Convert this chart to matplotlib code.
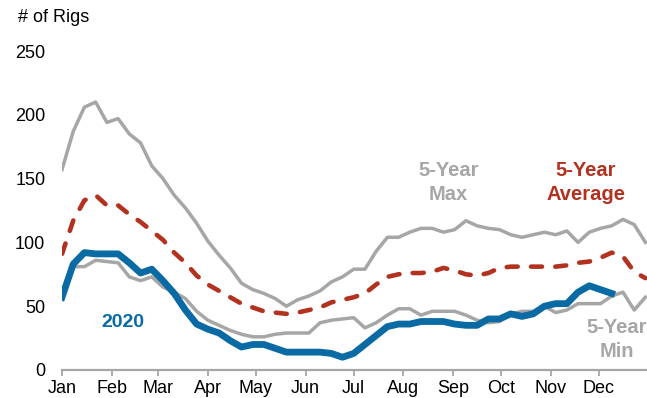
import matplotlib
matplotlib.use("Agg")
import matplotlib.pyplot as plt
import numpy as np

plt.rcParams['font.family'] = ['Liberation Sans', 'DejaVu Sans']

# weekly values, week 0 = first week of January
semanas = np.arange(53) * 7

maximo_5 = [157, 187, 206, 210, 194, 197, 185, 178, 160, 150, 137, 127, 115, 101,
            90, 80, 68, 63, 60, 56, 50, 55, 58, 62, 69, 73, 79, 79, 93, 104,
            104, 108, 111, 111, 108, 110, 117, 113, 111, 110, 106, 104, 106, 108,
            106, 109, 100, 108, 111, 113, 118, 114, 100]

promedio_5 = [91, 117, 133, 137, 129, 129, 122, 116, 109, 102, 92, 84, 74, 67,
              62, 57, 52, 49, 46, 45, 44, 45, 47, 49, 53, 55, 57, 60, 67, 73,
              75, 76, 76, 77, 80, 78, 75, 74, 76, 80, 81, 81, 81, 81,
              81, 82, 84, 85, 88, 92, 89, 77, 72]

minimo_5 = [62, 81, 81, 86, 85, 84, 73, 70, 73, 65, 61, 56, 46, 39,
            35, 31, 28, 26, 26, 28, 29, 29, 29, 37, 39, 40, 41, 33, 37, 43,
            48, 48, 43, 46, 46, 46, 43, 39, 37, 38, 44, 46, 46, 50,
            45, 47, 52, 52, 52, 58, 61, 47, 57]

rigs_2020 = [57, 83, 92, 91, 91, 91, 84, 76, 79, 70, 60, 47, 36, 32,
             29, 23, 18, 20, 20, 17, 14, 14, 14, 14, 13, 10, 13, 20, 27, 34,
             36, 36, 38, 38, 38, 36, 35, 35, 40, 40, 44, 42, 44, 50,
             52, 52, 61, 66, 63, 60]

meses = ['Jan', 'Feb', 'Mar', 'Apr', 'May', 'Jun', 'Jul', 'Aug', 'Sep', 'Oct', 'Nov', 'Dec']
inicio_mes = [0, 31, 60, 91, 121, 152, 182, 213, 244, 274, 305, 335]

gris = '#A6A6A6'
rojo = '#B3321F'
azul = '#0A6AA3'

fig = plt.figure(figsize=(6.47, 3.98), dpi=100)
ax = fig.add_axes([62/647, 28/398, 1 - 62/647, (370 - 51)/398])

ax.plot(semanas, maximo_5, color=gris, lw=2.5, zorder=2)
ax.plot(semanas, minimo_5, color=gris, lw=2.5, zorder=3)
ax.plot(semanas, promedio_5, color=rojo, lw=3.3, dashes=(2.4, 2.9),
        dash_capstyle='round', zorder=4)
ax.plot(semanas[:len(rigs_2020)], rigs_2020, color=azul, lw=4.9,
        solid_joinstyle='round', zorder=5)

ax.set_xlim(0, 365)
ax.set_ylim(0, 250)
ax.set_yticks([0, 50, 100, 150, 200, 250])
ax.set_xticks(inicio_mes)
ax.set_xticklabels(meses)

for lado in ['top', 'right', 'left']:
    ax.spines[lado].set_visible(False)
ax.spines['bottom'].set_color(gris)
ax.spines['bottom'].set_linewidth(1.6)
ax.spines['bottom'].set_zorder(1)

ax.tick_params(axis='y', length=0, pad=12, labelsize=13, colors='black')
ax.tick_params(axis='x', direction='out', length=4, width=1.3, color=gris,
               pad=3.5, labelsize=13, labelcolor='black')

# Etiquetas de las series
ax.text(38, 37, '2020', color=azul, fontsize=14, fontweight='bold', ha='center', va='center')
ax.text(241, 147, '5-Year\nMax', color=gris, fontsize=14.5, fontweight='bold',
        ha='center', va='center', linespacing=1.36)
ax.text(327, 147, '5-Year\nAverage', color=rojo, fontsize=14.5, fontweight='bold',
        ha='center', va='center', linespacing=1.36)
ax.text(346, 24, '5-Year\nMin', color=gris, fontsize=14.5, fontweight='bold',
        ha='center', va='center', linespacing=1.36, clip_on=False)

fig.text(18/647, 1 - 17/398, '# of Rigs', fontsize=13, ha='left', va='center')

fig.savefig('out.png', dpi=100)
